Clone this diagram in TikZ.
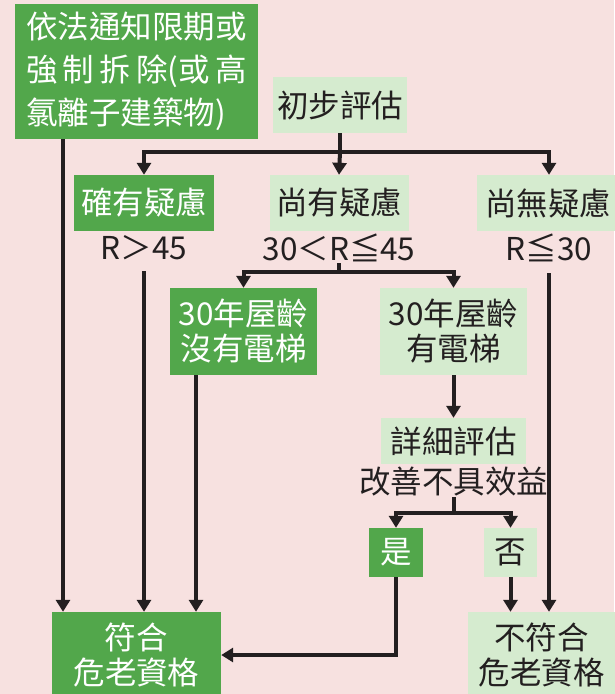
\documentclass[tikz,border=0pt]{standalone}
\usepackage{fontspec}
\setmainfont{Noto Sans CJK TC}
\usetikzlibrary{arrows.meta}
\definecolor{bgpink}{HTML}{F7E1E0}
\definecolor{dgreen}{HTML}{52A74B}
\definecolor{lgreen}{HTML}{D5EBCF}
\definecolor{ink}{HTML}{231F20}
\tikzset{
  base/.style={inner sep=0pt, align=center, font=\fontsize{31.5}{35}\selectfont},
  dbox/.style={base, fill=dgreen, text=white},
  lbox/.style={base, fill=lgreen, text=ink},
  lbl/.style={base, text=ink},
  conn/.style={draw=ink, line width=4pt, line join=miter},
  arr/.style={conn, -{Triangle[length=12pt,width=14pt]}},
}
\begin{document}
\begin{tikzpicture}[x=1pt,y=-1pt]
\useasboundingbox (0,0) rectangle (614,694);
\fill[bgpink] (0,0) rectangle (614,694);
% nodes
\node[dbox, minimum width=243pt, minimum height=135pt, align=left,
      font=\fontsize{31.5}{43}\selectfont] (tl) at (136.5,71.5)
  {依法通知限期或\\\makebox[7em][s]{強\hfil 制\hfil 拆\hfil 除(或\hfil 高}\\氯離子建築物)};
\node[lbox, minimum width=134pt, minimum height=56pt] (init) at (340,105) {初步評估};
\node[dbox, minimum width=140pt, minimum height=56pt] (c1) at (144,203) {確有疑慮};
\node[lbox, minimum width=139pt, minimum height=56pt] (c2) at (339,203) {尚有疑慮};
\node[lbox, minimum width=142pt, minimum height=56pt] (c3) at (548,203) {尚無疑慮};
\node[lbl, minimum height=46pt] (r1) at (144,248) {R＞45};
\node[lbl, minimum height=30pt] (r2) at (339,248) {30＜R≦45};
\node[lbl, minimum height=50pt] (r3) at (549,248) {R≦30};
\node[dbox, minimum width=147pt, minimum height=87pt] (d1) at (243.5,331.5) {30年屋齡\\沒有電梯};
\node[lbox, minimum width=147pt, minimum height=87pt] (d2) at (453.5,331.5) {30年屋齡\\有電梯};
\node[lbox, minimum width=145pt, minimum height=46pt] (e) at (453.5,441) {詳細評估};
\node[lbl, minimum height=30pt] (f) at (453.5,482) {改善不具效益};
\node[dbox, minimum width=54pt, minimum height=49pt] (yes) at (396,552.5) {是};
\node[lbox, minimum width=53pt, minimum height=49pt] (no) at (510.5,552.5) {否};
\node[dbox, minimum width=169pt, minimum height=86pt] (ok) at (136.5,655) {符合\\危老資格};
\node[lbox, minimum width=147pt, minimum height=86pt] (nok) at (541.5,655) {不符合\\危老資格};
% connectors
\draw[conn] (init.south) -- ++(0,19) coordinate (j1);
\draw[arr] (j1) -| (c1.north);
\draw[arr] (j1) -- (c2.north);
\draw[arr] (j1) -| ([xshift=1pt]c3.north);
\draw[conn] (r2.south) -- ++(0,9) coordinate (j2);
\draw[arr] (j2) -| (d1.north);
\draw[arr] (j2) -| (d2.north);
\draw[arr] (d2.south) -- (e.north);
\draw[conn] (f.south) -- ++(0,16) coordinate (j3);
\draw[arr] (j3) -| (yes.north);
\draw[arr] (j3) -| (no.north);
\draw[arr] ([xshift=-73.5pt]tl.south) -- ([xshift=-73.5pt]ok.north);
\draw[arr] (r1.south) -- (r1.south |- ok.north);
\draw[arr] ([xshift=-47.5pt]d1.south) -- ([xshift=-47.5pt]d1.south |- ok.north);
\draw[arr] (yes.south) |- (ok.east);
\draw[arr] (no.south) -- (no.south |- nok.north);
\draw[arr] (r3.south) -- (r3.south |- nok.north);
\end{tikzpicture}
\end{document}
